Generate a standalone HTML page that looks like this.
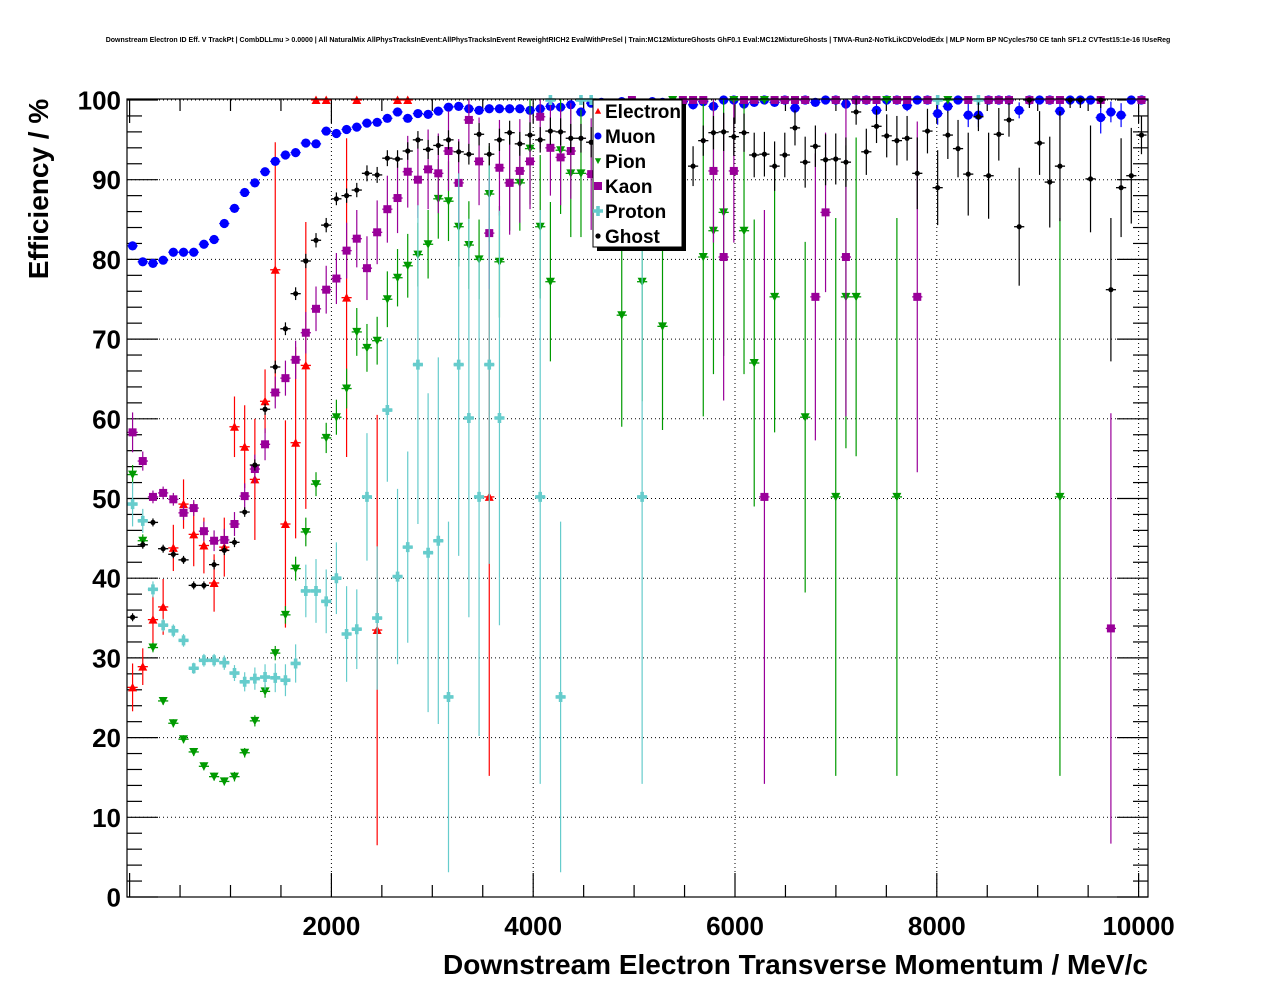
<!DOCTYPE html>
<html><head><meta charset="utf-8">
<style>
html,body{margin:0;padding:0;background:#fff;}
svg{display:block;font-family:"Liberation Sans",Arial,sans-serif;}
</style></head>
<body>
<svg id="chart" width="1276" height="996" viewBox="0 0 1276 996" xmlns="http://www.w3.org/2000/svg">
  <rect x="0" y="0" width="1276" height="996" fill="#fff"/>
  <text x="638" y="42" font-size="7" font-weight="bold" text-anchor="middle">Downstream Electron ID Eff. V TrackPt | CombDLLmu &gt; 0.0000 | All NaturalMix AllPhysTracksInEvent:AllPhysTracksInEvent ReweightRICH2 EvalWithPreSel | Train:MC12MixtureGhosts GhF0.1 Eval:MC12MixtureGhosts | TMVA-Run2-NoTkLikCDVelodEdx | MLP Norm BP NCycles750 CE tanh SF1.2 CVTest15:1e-16 !UseReg</text>
  <defs><clipPath id="frameClip"><rect x="127" y="99" width="1021" height="798"/></clipPath></defs>
  <g id="grid"></g>
  <g id="axes"></g>
  <g id="series"></g>
  <rect x="127" y="99" width="1021" height="798" fill="none" stroke="#000" stroke-width="1.2"/>
  <text transform="translate(48,189) rotate(-90)" font-size="28" font-weight="bold" text-anchor="middle">Efficiency / %</text>
  <text x="1148" y="974" font-size="28" font-weight="bold" text-anchor="end" textLength="705" lengthAdjust="spacingAndGlyphs">Downstream Electron Transverse Momentum / MeV/c</text>
  <g id="legend"></g>
</svg>
<script>
// ---- data (bin index k; bin center = binStart + binWidth*(k+0.5)) ----
const binStart = -21;
const binWidth = 101;
const xTicks = [2000, 4000, 6000, 8000, 10000];
const xTickLabels = ["2000", "4000", "6000", "8000", "10000"];
const yTicks = [0, 10, 20, 30, 40, 50, 60, 70, 80, 90, 100];
const yTickLabels = ["0", "10", "20", "30", "40", "50", "60", "70", "80", "90", "100"];
const seriesNames = ["Electron", "Muon", "Pion", "Kaon", "Proton", "Ghost"];

const electronBins = [0,1,2,3,4,5,6,7,8,9,10,11,12,13,14,15,16,17,18,19,21,22,24,26,27,35];
const electronVals = [26.3,28.9,34.8,36.4,43.8,49.3,45.5,44.1,39.4,43.9,59.0,56.5,52.4,62.2,78.7,46.8,57.0,66.7,100,100,75.2,100,33.5,100,100,50.2];
const electronErrs = [3.0,2.3,3.0,3.5,2.9,3.1,4,3.5,3.6,3.7,3.8,5.2,7.6,4,16,13,12,18,0,0,20,0,27,0,0,35];

const muonBins = [0,1,2,3,4,5,6,7,8,9,10,11,12,13,14,15,16,17,18,19,20,21,22,23,24,25,26,27,28,29,30,31,32,33,34,35,36,37,38,39,40,41,42,43,44,45,46,47,48,49,50,51,52,53,54,55,56,57,58,59,60,61,62,63,64,65,66,67,68,69,70,71,72,73,74,75,76,77,78,79,80,81,82,83,84,85,86,87,88,89,90,91,92,93,94,95,96,97,98,99];
const muonVals = [81.7,79.7,79.5,79.9,80.9,80.9,80.9,81.9,82.5,84.5,86.4,88.4,89.6,91.0,92.3,93.1,93.4,94.6,94.5,96.1,95.8,96.3,96.6,97.1,97.2,97.7,98.5,97.7,98.3,98.2,98.6,99.1,
99.2,98.9,98.7,98.9,98.9,98.9,98.9,98.7,98.9,99.2,99.1,99.4,98.5,
99.6,99.7,99.5,99.8,99.8,99.6,99.8,99.7,99.6,
99.8,99.4,99.8,99.2,100,100,99.5,99.7,100,99.7,100,99.0,100,99.7,100,100,99.5,100,100,98.7,100,100,99.3,100,100,98.3,99.2,100,98.1,98.1,100,100,100,98.7,100,100,100,98.6,100,100,100,97.8,98.5,98.1,100,100];
const muonErrs = [0.4,0.3,0.3,0.3,0.3,0.3,0.3,0.3,0.3,0.3,0.3,0.3,0.3,0.3,0.3,0.3,0.3,0.3,0.3,0.3,0.3,0.3,0.3,0.3,0.3,0.3,0.3,0.3,0.3,0.3,0.3,0.3,
0.3,0.3,0.3,0.3,0.3,0.3,0.3,0.3,0.3,0.3,0.3,0.3,0.5,
0.3,0.3,0.3,0.3,0.3,0.3,0.3,0.3,0.3,
0.4,0.6,0.4,0.7,0.2,0.2,0.6,0.5,0.2,0.5,0.2,0.8,0.2,0.5,0.2,0.2,0.6,0.2,0.2,1.0,0.2,0.2,0.7,0.2,0.2,1.4,0.8,0.2,1.5,1.5,0.2,0.2,0.2,1.0,0.2,0.2,0.2,1.1,0.2,0.2,0.2,2.0,1.3,1.5,0.2,0.2];

const pionBins = [0,1,2,3,4,5,6,7,8,9,10,11,12,13,14,15,16,17,18,19,20,21,22,23,24,25,26,27,28,29,30,31,32,33,34,35,36,37,38,39,40,41,42,43,44,48,50,52,53,56,57,58,59,60,61,62,63,66,69,70,71,74,75,80,91];
const pionVals = [53.0,44.7,31.3,24.6,21.8,19.8,18.2,16.4,15.1,14.5,15.1,18.1,22.1,25.8,30.6,35.4,41.2,45.8,51.8,57.6,60.2,63.8,70.9,68.9,69.8,75.0,77.7,79.2,80.6,81.9,87.6,87.3,
84.1,81.8,80.0,88.2,79.7,89.6,89.6,93.9,84.1,77.2,93.7,90.8,90.8,
73.0,77.2,71.6,100,80.3,83.6,85.9,100,83.6,67.0,100,75.3,60.2,50.2,75.3,75.3,100,50.2,100,50.2];
const pionErrs = [1.2,0.8,0.6,0.5,0.5,0.5,0.5,0.5,0.5,0.5,0.6,0.6,0.7,0.8,0.9,1.1,1.5,1.8,1.5,1.9,2.2,2.5,3,3,3,3.5,3.6,4,4,4.3,5,5,
5,5.5,5,6,7,6,6,7,9,10,8,8,8,
14,15,13,0,20,18,18,0,18,18,0,17,22,35,19,20,0,35,0,35];

const kaonBins = [0,1,2,3,4,5,6,7,8,9,10,11,12,13,14,15,16,17,18,19,20,21,22,23,24,25,26,27,28,29,30,31,32,33,34,35,36,37,38,39,40,41,42,43,45,49,54,55,56,57,58,59,60,61,62,63,64,65,66,67,68,69,70,71,72,73,75,76,77,78,82,84,85,86,88,90,91,95,96,99];
const kaonVals = [58.3,54.7,50.2,50.7,49.9,48.2,48.8,45.9,44.7,44.8,46.8,50.3,53.7,56.8,63.3,65.1,67.4,70.8,73.8,76.2,77.6,81.1,82.6,78.9,83.4,86.3,87.7,91.0,90.0,91.3,90.8,93.6,89.6,97.5,92.3,83.3,91.5,89.6,91.1,92.3,97.9,94.0,92.8,93.6,
90.7,100,100,100,100,91.1,80.3,91.1,100,100,50.2,100,100,100,100,75.3,85.9,100,80.3,100,100,100,100,100,75.3,100,100,100,100,100,100,100,100,100,33.7,100];
const kaonErrs = [2.5,1.2,0.8,0.8,0.8,0.9,1,1.2,1.3,1.4,1.5,1.6,1.8,2,2,2.2,2.4,2.6,2.8,3,3.2,3.5,3.6,4,4,4.2,4.4,4.5,4.8,5,5,5,5.5,4,5.5,7,6,6.5,6.5,6,4,6,6,6,
7,0,0,0,0,9,18,9,0,0,36,0,0,0,0,18,10,0,20,0,0,0,0,0,22,0,0,0,0,0,0,0,0,0,27,0];

const protonBins = [0,1,2,3,4,5,6,7,8,9,10,11,12,13,14,15,16,17,18,19,20,21,22,23,24,25,26,27,28,29,30,31,32,33,34,35,36,40,41,42,44,45,50,79,83];
const protonVals = [49.3,47.2,38.6,34.1,33.4,32.2,28.7,29.7,29.7,29.4,28.1,27.0,27.4,27.6,27.5,27.2,29.3,38.4,38.4,37.1,40.0,33.0,33.6,50.2,35.0,61.1,40.2,43.9,66.8,43.2,44.7,25.1,66.8,60.1,50.2,66.8,60.1,
50.2,100,25.1,100,100,50.2,100,100];
const protonErrs = [2.8,1.5,1.0,0.8,0.8,0.8,0.7,0.8,0.8,0.9,1,1.2,1.4,1.6,1.8,2,2.4,3.3,4,4,4.5,6,5,8,9,9,11,12,20,20,23,22,24,25,30,25,26,
36,0,22,0,0,36,0,0];

const ghostBins = [0,1,2,3,4,5,6,7,8,9,10,11,12,13,14,15,16,17,18,19,20,21,22,23,24,25,26,27,28,29,30,31,32,33,34,35,36,37,38,39,40,41,42,43,44,45,55,56,57,58,59,60,61,62,63,64,65,66,67,68,69,70,71,72,73,74,75,76,77,78,79,80,81,82,83,84,85,86,87,88,89,90,91,92,93,94,95,96,97,98,99];
const ghostVals = [35.1,44.2,47.0,43.7,43.0,42.3,39.1,39.1,41.7,43.5,44.5,48.3,54.2,61.2,66.5,71.3,75.7,79.8,82.4,84.3,87.6,88.0,88.7,90.8,90.6,92.7,92.6,93.6,95.0,93.8,94.3,95.0,93.5,93.2,95.7,93.2,95.0,95.9,94.5,95.6,95.0,96.1,96.0,95.2,95.2,94.7,
91.7,94.9,95.9,96.0,95.4,95.9,93.1,93.2,91.7,93.1,96.5,92.2,94.2,92.5,92.6,92.2,98.5,93.5,96.7,95.5,94.9,95.2,90.8,96.1,89.0,95.6,93.9,90.7,97.9,90.5,95.7,97.5,84.1,100,94.6,89.7,91.7,100,100,90.1,100,76.2,89.0,90.5,95.6];
const ghostErrs = [0.5,0.5,0.5,0.5,0.5,0.5,0.5,0.5,0.6,0.6,0.6,0.6,0.7,0.7,0.8,0.8,0.8,0.9,0.9,0.9,0.8,0.9,0.9,1.0,1.0,1.0,1.1,1.1,1.1,1.2,1.2,1.2,1.3,1.3,1.4,1.4,1.4,1.5,1.5,1.6,1.6,1.7,1.7,1.8,1.8,1.9,
2.5,1.9,2.1,2.4,2.4,2.4,2.8,2.8,3.1,2.8,2.2,3.2,2.6,3.2,3.2,3.1,1.6,2.9,2.1,2.7,3.1,2.8,4.5,2.8,4.7,3.0,3.6,5.2,1.8,5.4,3.3,2.1,7.4,1,4,5.7,6.9,1,1,6.7,1,9,6.2,6,2.4];

// ---- axis functions ----
const X0 = 129.6, XS = 0.1009;      // px per MeV
const Y0 = 897, YS = 7.97;          // px per %
function xPos(mev){ return X0 + XS*mev; }
function yPos(v){ return Y0 - YS*v; }
function binCenter(k){ return binStart + binWidth*(k+0.5); }

const NS = "http://www.w3.org/2000/svg";
function mk(tag, attrs, parent){
  const e = document.createElementNS(NS, tag);
  for (const a in attrs) e.setAttribute(a, attrs[a]);
  parent.appendChild(e);
  return e;
}
const grid = document.getElementById('grid');
const axes = document.getElementById('axes');
const series = document.getElementById('series');
const legend = document.getElementById('legend');

// grid lines
xTicks.forEach(function(t){
  const l = mk('line',{x1:xPos(t),x2:xPos(t),y1:99,y2:897,stroke:'#000','stroke-width':1,'stroke-dasharray':'1,3'},grid);
  
  
});
yTicks.forEach(function(t){
  const l = mk('line',{x1:127,x2:1148,y1:yPos(t),y2:yPos(t),stroke:'#000','stroke-width':1,'stroke-dasharray':'1,3'},grid);
  
  
});

// x ticks (major every 2000, minor every 500), bottom and top
for (let m = 0; m <= 10000; m += 500){
  const major = (m % 2000 === 0);
  const len = major ? 24 : 12;
  const px = xPos(m);
  const t1 = mk('line',{x1:px,x2:px,y1:897,y2:897-len,stroke:'#000','stroke-width':1.2},axes);
  
  
  const t2 = mk('line',{x1:px,x2:px,y1:99,y2:99+(major?24:12),stroke:'#000','stroke-width':1.2},axes);
  
  
}
xTicks.forEach(function(t,i){
  const tx = mk('text',{x:xPos(t),y:935,'font-size':26,'font-weight':'bold','text-anchor':'middle'},axes);
  tx.textContent = xTickLabels[i];
  
  
});
// y ticks (major every 10, minor every 2), left and right
for (let v = 0; v <= 100; v += 2){
  const major = (v % 10 === 0);
  const len = major ? 31 : 15;
  const py = yPos(v);
  const t1 = mk('line',{x1:127,x2:127+len,y1:py,y2:py,stroke:'#000','stroke-width':1.2},axes);
  
  
  const t2 = mk('line',{x1:1148,x2:1148-len,y1:py,y2:py,stroke:'#000','stroke-width':1.2},axes);
  
  
}
yTicks.forEach(function(t,i){
  const tx = mk('text',{x:121,y:yPos(t)+9.5,'font-size':26,'font-weight':'bold','text-anchor':'end'},axes);
  tx.textContent = yTickLabels[i];
  
  
});

// markers
function marker(kind, cx, cy, color, g){
  let e;
  if (kind === 'tri-up'){
    e = mk('polygon',{points:(cx-4.5)+','+(cy+4)+' '+(cx+4.5)+','+(cy+4)+' '+cx+','+(cy-4.5),fill:color},g);
  } else if (kind === 'circle'){
    e = mk('circle',{cx:cx,cy:cy,r:4.6,fill:color},g);
  } else if (kind === 'tri-down'){
    e = mk('polygon',{points:(cx-4.5)+','+(cy-4)+' '+(cx+4.5)+','+(cy-4)+' '+cx+','+(cy+4.5),fill:color},g);
  } else if (kind === 'square'){
    e = mk('rect',{x:cx-4,y:cy-4,width:8,height:8,fill:color},g);
  } else if (kind === 'cross'){
    e = mk('path',{d:'M'+(cx-5)+' '+(cy-1.8)+'h3.2v-3.2h3.6v3.2h3.2v3.6h-3.2v3.2h-3.6v-3.2h-3.2z',fill:color},g);
  } else {
    e = mk('circle',{cx:cx,cy:cy,r:2.6,fill:color},g);
  }
  return e;
}

const seriesDefs = [
  {name:'electron', color:'#ff0000', kind:'tri-up', bins:electronBins, vals:electronVals, errs:electronErrs},
  {name:'muon', color:'#0000ff', kind:'circle', bins:muonBins, vals:muonVals, errs:muonErrs},
  {name:'pion', color:'#009a00', kind:'tri-down', bins:pionBins, vals:pionVals, errs:pionErrs},
  {name:'kaon', color:'#990099', kind:'square', bins:kaonBins, vals:kaonVals, errs:kaonErrs},
  {name:'proton', color:'#66cccc', kind:'cross', bins:protonBins, vals:protonVals, errs:protonErrs},
  {name:'ghost', color:'#000000', kind:'dot', bins:ghostBins, vals:ghostVals, errs:ghostErrs}
];

seriesDefs.forEach(function(s){
  const g = mk('g',{},series);
  
  
  const eb = mk('g',{'clip-path':'url(#frameClip)'},g);
  
  
  s.bins.forEach(function(k,i){
    const cx = xPos(binCenter(k));
    const xl = xPos(binCenter(k) - binWidth/2), xr = xPos(binCenter(k) + binWidth/2);
    const cy = yPos(s.vals[i]);
    const hl = mk('line',{x1:xl,x2:xr,y1:cy,y2:cy,stroke:s.color,'stroke-width':1.3},eb);
    
    
    if (s.errs[i] > 0){
      const vl = mk('line',{x1:cx,x2:cx,y1:yPos(s.vals[i]+s.errs[i]),y2:yPos(s.vals[i]-s.errs[i]),stroke:s.color,'stroke-width':1.2},eb);
      
      
    }
  });
  s.bins.forEach(function(k,i){
    const m = marker(s.kind, xPos(binCenter(k)), yPos(s.vals[i]), s.color, g);
    
    
  });
});

// legend
const shadow = mk('rect',{x:597,y:104,width:89,height:147,fill:'#000'},legend);


const box = mk('rect',{x:593,y:100,width:89,height:147,fill:'#fff',stroke:'#000','stroke-width':1},legend);


seriesDefs.forEach(function(s,i){
  const ly = 111 + 25*i;
  const m = marker(s.kind, 598, ly, s.color, legend);
  if (s.kind === 'tri-up' || s.kind === 'tri-down') m.setAttribute('transform','translate(598,'+ly+') scale(0.7) translate(-598,-'+ly+')');
  if (s.kind === 'circle') m.setAttribute('r', 3.5);
  
  
  const t = mk('text',{x:605,y:ly+7,'font-size':19,'font-weight':'bold'},legend);
  t.textContent = seriesNames[i];
  
  
});
</script>
</body></html>
